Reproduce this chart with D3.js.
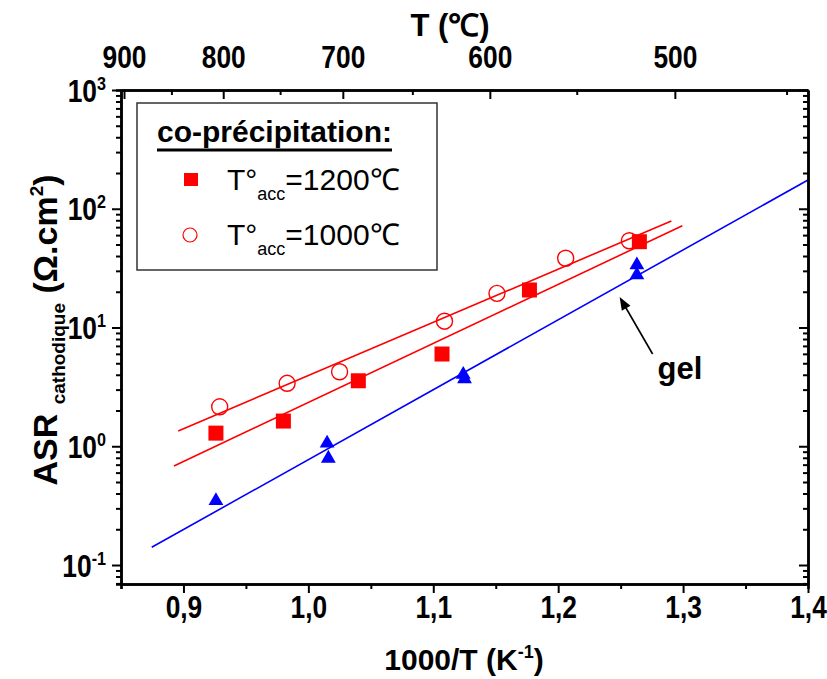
<!DOCTYPE html>
<html><head><meta charset="utf-8">
<script src="https://cdn.jsdelivr.net/npm/d3@7"></script>
<style>body{margin:0;background:#fff}</style>
</head><body>
<svg id="c" width="827" height="679" xmlns="http://www.w3.org/2000/svg"></svg>
<script>
// ---- data ----
const xSquare = [0.926, 0.980, 1.040, 1.107, 1.177, 1.265];
const ySquare = [1.29, 1.63, 3.56, 5.98, 20.7, 52.8];
const xCircle = [0.929, 0.983, 1.025, 1.109, 1.151, 1.206, 1.257];
const yCircle = [2.15, 3.39, 4.24, 11.3, 19.4, 38.3, 53.8];
const xTriangle = [0.926, 1.015, 1.016, 1.124, 1.125, 1.263, 1.263];
const yTriangle = [0.348, 1.06, 0.79, 4.02, 3.69, 33.6, 27.7];
// fitted lines (end points)
const fitCircleX = [0.8958, 1.2906];
const fitCircleY = [1.344, 78.9];
const fitSquareX = [0.8924, 1.2994];
const fitSquareY = [0.682, 72.0];
const fitGelX = [0.8746, 1.4];
const fitGelY = [0.141, 174.6];
// axes
const xTicks = [0.9, 1.0, 1.1, 1.2, 1.3, 1.4];
const xMinorTicks = [0.85, 0.95, 1.05, 1.15, 1.25, 1.35];
const yTicks = [0.1, 1, 10, 100, 1000];
const topTicksC = [900, 800, 700, 600, 500];
const topMinorC = [850, 750, 650, 550, 450];
const legendLabels = ["1200℃", "1000℃"];
// annotation "gel" arrow (data coords)
const arrowFrom = [1.2756, 5.98];
const arrowTo = [1.2492, 18.07];
const gelPos = [1.2796, 3.69];

const svg = d3.select("#c");
const FONT = "'Liberation Sans', Arial, Helvetica, sans-serif";
const m = {l:121, r:808, t:90, b:584};
const x = d3.scaleLinear().domain([0.85, 1.4]).range([m.l, m.r]);
const y = d3.scaleLog().domain([0.0692, 1000]).range([m.b, m.t]);
const RED = "#ff0000", BLUE = "#0000ff";
const SQX = 0.85; // horizontal condensing of tick labels

// fit lines
const line = d3.line().x(d => x(d[0])).y(d => y(d[1]));
const fits = [[fitCircleX, fitCircleY, RED], [fitSquareX, fitSquareY, RED], [fitGelX, fitGelY, BLUE]];
fits.forEach(([fx, fy, c]) => {
  svg.append("path").attr("d", line(fx.map((v, i) => [v, fy[i]])))
    .attr("fill", "none").attr("stroke", c).attr("stroke-width", 1.6);
});

// markers
svg.append("g").selectAll("rect").data(xSquare.map((v, i) => [v, ySquare[i]])).join("rect")
  .attr("x", d => x(d[0]) - 7.5).attr("y", d => y(d[1]) - 7.5)
  .attr("width", 15).attr("height", 15).attr("fill", RED);
svg.append("g").selectAll("circle").data(xCircle.map((v, i) => [v, yCircle[i]])).join("circle")
  .attr("cx", d => x(d[0])).attr("cy", d => y(d[1])).attr("r", 8)
  .attr("fill", "none").attr("stroke", RED).attr("stroke-width", 1.4);
const tri = d3.symbol().type(d3.symbolTriangle).size(95);
svg.append("g").selectAll("path").data(xTriangle.map((v, i) => [v, yTriangle[i]])).join("path")
  .attr("d", tri).attr("transform", d => `translate(${x(d[0])},${y(d[1])})`).attr("fill", BLUE);

// axes
function styleAxis(g) {
  g.select(".domain").attr("stroke", "#000").attr("stroke-width", 2.5);
  g.selectAll(".tick line").attr("stroke", "#000").attr("stroke-width", 2);
  g.selectAll(".tick text").attr("font-family", FONT).attr("font-weight", "bold")
    .attr("font-size", 31).attr("fill", "#000")
    .attr("transform", `scale(${SQX},1)`);
}
const fmtX = d => d3.format(".1f")(d).replace(".", ",");
// bottom
svg.append("g").attr("transform", `translate(0,${m.b})`)
  .call(d3.axisBottom(x).tickValues(xMinorTicks).tickSize(5).tickFormat(""))
  .call(styleAxis);
svg.append("g").attr("transform", `translate(0,${m.b})`)
  .call(d3.axisBottom(x).tickValues(xTicks).tickSizeInner(9).tickSizeOuter(0).tickPadding(3).tickFormat(fmtX))
  .call(styleAxis);
// top (temperature in °C)
const toX = c => 1000 / (c + 273.15);
svg.append("g").attr("transform", `translate(0,${m.t})`)
  .call(d3.axisTop(x).tickValues(topMinorC.map(toX)).tickSizeInner(-5).tickSizeOuter(0).tickFormat(""))
  .call(styleAxis);
svg.append("g").attr("transform", `translate(0,${m.t})`)
  .call(d3.axisTop(x).tickValues(topTicksC.map(toX)).tickSizeInner(-9).tickSizeOuter(0).tickPadding(22)
    .tickFormat((d, i) => topTicksC[i]))
  .call(styleAxis);
// left
const yMinor = [];
[0.01, 0.1, 1, 10, 100].forEach(dec => { for (let k = 2; k <= 9; k++) { const v = dec * k; if (v >= 0.0692 && v <= 1000) yMinor.push(v); } });
svg.append("g").attr("transform", `translate(${m.l},0)`)
  .call(d3.axisLeft(y).tickValues(yMinor).tickSize(5).tickFormat(""))
  .call(styleAxis);
const gl = svg.append("g").attr("transform", `translate(${m.l},0)`)
  .call(d3.axisLeft(y).tickValues(yTicks).tickSizeInner(9).tickSizeOuter(0).tickFormat(""))
  .call(styleAxis);
gl.selectAll(".tick").each(function(d) {
  const t = d3.select(this).append("text").attr("x", -15 / SQX).attr("dy", "0.36em")
    .attr("text-anchor", "end").attr("font-family", FONT).attr("font-weight", "bold")
    .attr("font-size", 31).attr("fill", "#000").attr("transform", `scale(${SQX},1)`);
  t.append("tspan").text("10");
  t.append("tspan").attr("font-size", 19).attr("dy", -12).text(Math.round(Math.log10(d)));
});
// right
svg.append("g").attr("transform", `translate(${m.r},0)`)
  .call(d3.axisLeft(y).tickValues(yMinor).tickFormat("").tickSizeOuter(0))
  .call(g => { styleAxis(g); g.selectAll(".tick line").attr("x2", -5); });
svg.append("g").attr("transform", `translate(${m.r},0)`)
  .call(d3.axisLeft(y).tickValues(yTicks).tickSizeOuter(0).tickFormat(""))
  .call(g => { styleAxis(g); g.selectAll(".tick line").attr("x2", -9); });

// axis titles
svg.append("text").attr("x", 464).attr("y", 670).attr("text-anchor", "middle")
  .attr("font-family", FONT).attr("font-weight", "bold").attr("font-size", 30)
  .call(t => {
    t.append("tspan").text("1000/T (K");
    t.append("tspan").attr("font-size", 18).attr("dy", -12).text("-1");
    t.append("tspan").attr("dy", 12).text(")");
  });
svg.append("text").attr("x", 450).attr("y", 36).attr("text-anchor", "middle")
  .attr("font-family", FONT).attr("font-weight", "bold").attr("font-size", 31)
  .text("T (℃)");
svg.append("text").attr("transform", "translate(57,330) rotate(-90)").attr("text-anchor", "middle")
  .attr("font-family", FONT).attr("font-weight", "bold").attr("font-size", 34)
  .call(t => {
    t.append("tspan").text("ASR ");
    t.append("tspan").attr("font-size", 19).attr("dy", 8).text("cathodique");
    t.append("tspan").attr("dy", -8).text(" (Ω.cm");
    t.append("tspan").attr("font-size", 19).attr("dy", -14).text("2");
    t.append("tspan").attr("dy", 14).text(")");
  });

// annotation
const ax0 = x(arrowFrom[0]), ay0 = y(arrowFrom[1]), ax1 = x(arrowTo[0]), ay1 = y(arrowTo[1]);
const ang = Math.atan2(ay1 - ay0, ax1 - ax0);
const hl = 13, hw = 5;
svg.append("line").attr("x1", ax0).attr("y1", ay0)
  .attr("x2", ax1 - Math.cos(ang) * hl * 0.8).attr("y2", ay1 - Math.sin(ang) * hl * 0.8)
  .attr("stroke", "#000").attr("stroke-width", 1.6);
svg.append("path").attr("d", d3.line()([
  [ax1, ay1],
  [ax1 - Math.cos(ang) * hl + Math.sin(ang) * hw, ay1 - Math.sin(ang) * hl - Math.cos(ang) * hw],
  [ax1 - Math.cos(ang) * hl - Math.sin(ang) * hw, ay1 - Math.sin(ang) * hl + Math.cos(ang) * hw]
]) + "Z").attr("fill", "#000");
svg.append("text").attr("x", x(gelPos[0])).attr("y", y(gelPos[1]))
  .attr("font-family", FONT).attr("font-weight", "bold").attr("font-size", 31).text("gel");

// legend
const lg = svg.append("g");
lg.append("rect").attr("x", 137).attr("y", 103).attr("width", 300).attr("height", 167)
  .attr("fill", "#fff").attr("stroke", "#333").attr("stroke-width", 1.5);
const ttl = lg.append("text").attr("x", 157).attr("y", 142)
  .attr("font-family", FONT).attr("font-weight", "bold").attr("font-size", 30).text("co-précipitation:");
const tw = ttl.node().getComputedTextLength();
lg.append("line").attr("x1", 157).attr("x2", 157 + tw).attr("y1", 150).attr("y2", 150)
  .attr("stroke", "#000").attr("stroke-width", 3);
lg.append("rect").attr("x", 184).attr("y", 173).attr("width", 14).attr("height", 13).attr("fill", RED);
lg.append("circle").attr("cx", 190).attr("cy", 235).attr("r", 7).attr("fill", "none")
  .attr("stroke", RED).attr("stroke-width", 1.2);
legendLabels.forEach((lab, i) => {
  const t = lg.append("text").attr("x", 227).attr("y", 190 + i * 55)
    .attr("font-family", FONT).attr("font-size", 30).attr("fill", "#000");
  t.append("tspan").text("T°");
  t.append("tspan").attr("font-size", 18).attr("dy", 10).text("acc");
  t.append("tspan").attr("dy", -10).text("=" + lab);
});
</script>
</body></html>
